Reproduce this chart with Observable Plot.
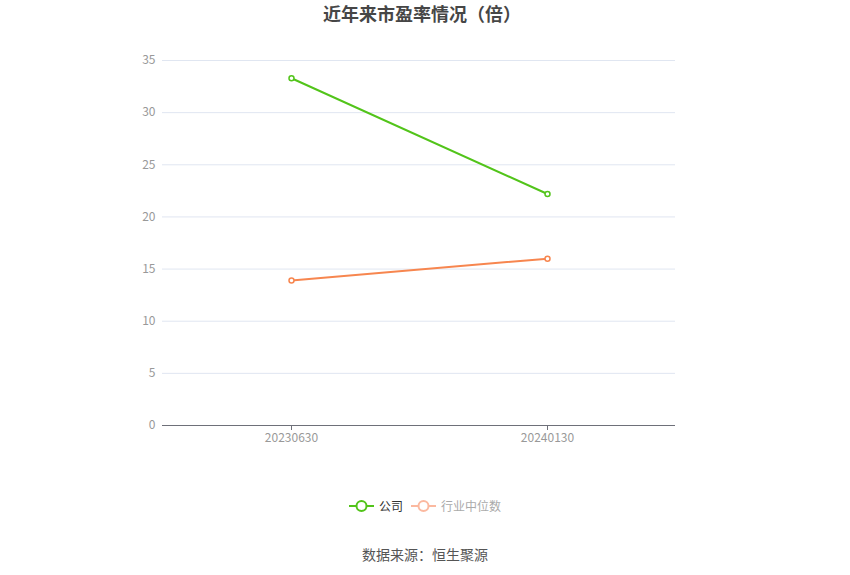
<!DOCTYPE html>
<html>
<head>
<meta charset="utf-8">
<script src="https://cdn.jsdelivr.net/npm/d3@7"></script>
<script src="https://cdn.jsdelivr.net/npm/@observablehq/plot@0.6"></script>
<style>
  body { margin: 0; background: #fff; font-family: "Noto Sans CJK SC", "Microsoft YaHei", sans-serif; }
  #wrap { width: 850px; height: 575px; position: relative; }
  #title { height: 30px; line-height: 26px; text-align: center; font-size: 18px; font-weight: bold; color: #464646; padding-right: 6px; }
  #legend { position: absolute; top: 496px; left: 0; width: 850px; text-align: center; font-size: 12px; line-height: 20px; }
  .item { display: inline-flex; align-items: center; margin: 0 4px; }
  .item svg { margin-right: 5px; }
  #caption { position: absolute; top: 544px; left: 0; width: 850px; text-align: center; font-size: 14px; color: #555; line-height: 20px; }
</style>
</head>
<body>
<div id="wrap">
  <div id="title">近年来市盈率情况（倍）</div>
  <div id="chart"></div>
  <div id="legend"></div>
  <div id="caption">数据来源：恒生聚源</div>
</div>
<script>
const categories = ["20230630", "20240130"];
const companyValues = [33.3, 22.2];
const industryValues = [13.9, 16.0];
const seriesNames = ["公司", "行业中位数"];
const seriesColors = ["#52c41a", "#f7864f"];
const yTicks = [0, 5, 10, 15, 20, 25, 30, 35];

const data = [];
categories.forEach((c, i) => {
  data.push({date: c, value: companyValues[i], series: seriesNames[0]});
  data.push({date: c, value: industryValues[i], series: seriesNames[1]});
});

const chart = Plot.plot({
  width: 850,
  height: 440,
  marginTop: 30,
  marginBottom: 45,
  marginLeft: 162,
  marginRight: 175,
  style: {fontFamily: "'Noto Sans CJK SC', sans-serif", fontSize: "12px", background: "#fff"},
  x: {type: "point", domain: categories, padding: 0.5, label: null},
  y: {domain: [0, 35], ticks: yTicks, label: null},
  color: {domain: seriesNames, range: seriesColors},
  marks: [
    Plot.gridY(yTicks, {stroke: "#e0e6f1", strokeOpacity: 1}),
    Plot.axisY(yTicks, {tickSize: 0, tickPadding: 7, fill: "#999", fontSize: 12}),
    Plot.ruleY([0], {stroke: "#6e7079", strokeWidth: 1}),
    Plot.axisX({tickSize: 5, tickPadding: 3, fill: "#999", stroke: "#6e7079", fontSize: 12}),
    Plot.line(data, {x: "date", y: "value", z: "series", stroke: "series", strokeWidth: 2}),
    Plot.dot(data, {x: "date", y: "value", stroke: "series", fill: "#fff", r: 2.5, strokeWidth: 1.5})
  ]
});
document.getElementById("chart").appendChild(chart);

const legend = document.getElementById("legend");
const legendColors = ["#52c41a", "#fbb9a0"];
const legendText = ["#333", "#aaa"];
seriesNames.forEach((name, i) => {
  const span = document.createElement("span");
  span.className = "item";
  span.innerHTML = `<svg width="25" height="14"><line x1="0" y1="7" x2="25" y2="7" stroke="${legendColors[i]}" stroke-width="2"/><circle cx="12.5" cy="7" r="5" fill="#fff" stroke="${legendColors[i]}" stroke-width="2"/></svg><span style="color:${legendText[i]}">${name}</span>`;
  legend.appendChild(span);
});
</script>
</body>
</html>
